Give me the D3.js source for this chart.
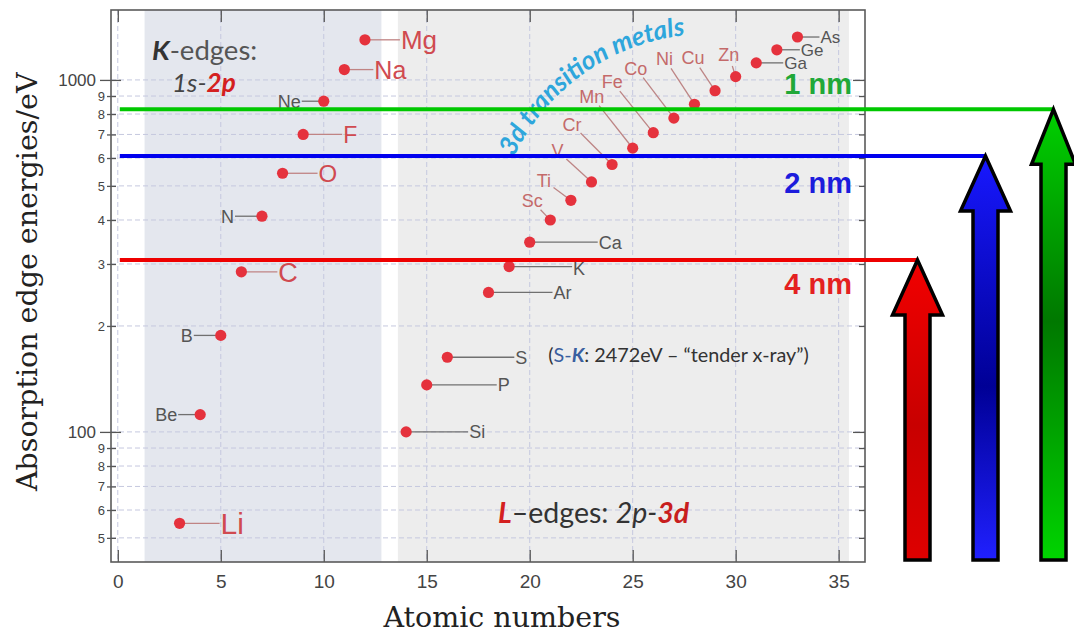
<!DOCTYPE html>
<html>
<head>
<meta charset="utf-8">
<script src="https://cdn.jsdelivr.net/npm/d3@7/dist/d3.min.js"></script>
<style>
  body { margin: 0; background: #fff; }
  svg { display: block; }
</style>
</head>
<body>
<svg id="chart" width="1074" height="633"></svg>
<script>
// K-edges (1s), light elements
const kSymbols = ["Li", "Be", "B", "C", "N", "O", "F", "Ne", "Na", "Mg"];
const kZ = [3, 4, 5, 6, 7, 8, 9, 10, 11, 12];
const kEnergy = [55, 112, 188, 285, 410, 543, 700, 870, 1070, 1300];

// L-edges (2p)
const lSymbols = ["Si", "P", "S", "Ar", "K", "Ca", "Sc", "Ti", "V", "Cr", "Mn", "Fe", "Co", "Ni", "Cu", "Zn", "Ga", "Ge", "As"];
const lZ = [14, 15, 16, 18, 19, 20, 21, 22, 23, 24, 25, 26, 27, 28, 29, 30, 31, 32, 33];
const lEnergy = [100, 136, 163, 249, 295, 346, 400, 455, 513, 575, 640, 708, 779, 853, 932, 1022, 1118, 1218, 1324];

// wavelength markers (eV where the line is drawn)
const waveNames = ["1 nm", "2 nm", "4 nm"];
const waveEnergy = [825, 608, 308];

// shaded spans (atomic number)
const regionFrom = [1.3, 13.6];
const regionTo = [12.8, 35.5];

const xTicks = [0, 5, 10, 15, 20, 25, 30, 35];
const yMajor = [100, 1000];
const yMinor = [50, 60, 70, 80, 90, 200, 300, 400, 500, 600, 700, 800, 900];
const yMinorText = ["5", "6", "7", "8", "9", "2", "3", "4", "5", "6", "7", "8", "9"];

// label placement: kind, dx, dy, font size
const labelSpot = {
    Li: ["big", 41, 0, 30], Be: ["left", -23, 0, 18], B: ["left", -28, 0, 18],
    C: ["big", 37, 0, 27], N: ["left", -28, 0, 18], O: ["big", 36, 0, 24],
    F: ["big", 40, 0, 23], Ne: ["left", -23, 0, 18], Na: ["big", 30, 0, 25],
    Mg: ["big", 36, 0, 26],
    Si: ["right", 63, 0, 18], P: ["right", 71, 0, 18], S: ["right", 68, 0, 18],
    Ar: ["right", 65, 0, 18], K: ["right", 64, 2, 18], Ca: ["right", 69, 0, 18],
    Sc: ["tm", -18, -19, 18], Ti: ["tm", -27, -20, 18], V: ["tm", -34, -31, 18],
    Cr: ["tm", -40, -40, 18], Mn: ["tm", -41, -52, 18], Fe: ["tm", -41, -51, 18],
    Co: ["tm", -38, -50, 18], Ni: ["tm", -30, -46, 18], Cu: ["tm", -22, -33, 18],
    Zn: ["tm", -7, -22, 18],
    Ga: ["right", 28, 0, 17], Ge: ["right", 24, 0, 17], As: ["right", 23, 0, 17]
};

const sans = "'Liberation Sans', Arial, sans-serif";
const calibri = "Lato, 'Open Sans', sans-serif";
const serif = "'DejaVu Serif', serif";

const svg = d3.select("#chart");
const defs = svg.append("defs");

const x = d3.scaleLinear().domain([-0.33, 36.28]).range([111, 865]);
const y = d3.scaleLog().domain([42.7, 1580]).range([562, 10]);
const x0 = x.range()[0], x1 = x.range()[1];
const y0 = y.range()[0], y1 = y.range()[1];

// shaded regions
const regionFill = ["#e4e7ee", "#ededed"];
svg.append("g").selectAll("rect")
    .data(regionFrom)
    .enter().append("rect")
    .attr("x", d => x(d))
    .attr("width", (d, i) => x(regionTo[i]) - x(d))
    .attr("y", y1)
    .attr("height", y0 - y1)
    .attr("fill", (d, i) => regionFill[i]);

// dashed grid
svg.append("g").selectAll("line")
    .data(yMinor.concat(yMajor))
    .enter().append("line")
    .attr("x1", x0).attr("x2", x1)
    .attr("y1", d => y(d)).attr("y2", d => y(d))
    .attr("stroke", "#c5c8df")
    .attr("stroke-dasharray", "5,3");

svg.append("g").selectAll("line")
    .data(xTicks)
    .enter().append("line")
    .attr("x1", d => x(d)).attr("x2", d => x(d))
    .attr("y1", y1).attr("y2", y0)
    .attr("stroke", "#c5c8df")
    .attr("stroke-dasharray", "5,3");

function styleAxis(g, size) {
    g.select(".domain").remove();
    g.selectAll("line").attr("stroke", "#555").attr("stroke-width", 1.3);
    g.selectAll("text").attr("fill", "#444");
    g.attr("font-family", sans).attr("font-size", size);
}

// x axis, ticks inside
svg.append("g")
    .attr("transform", "translate(0," + y0 + ")")
    .call(d3.axisBottom(x).tickValues(xTicks).tickSize(-12).tickPadding(13))
    .call(g => styleAxis(g, 19));
svg.append("g")
    .attr("transform", "translate(0," + y1 + ")")
    .call(d3.axisTop(x).tickValues(xTicks).tickSize(-12).tickFormat(""))
    .call(g => styleAxis(g, 10));

// y axis, ticks cross the spine
svg.append("g")
    .attr("transform", "translate(" + x0 + ",0)")
    .call(d3.axisLeft(y).tickValues(yMajor).tickSize(11).tickPadding(4).tickFormat(d3.format("d")))
    .call(g => styleAxis(g, 17));
svg.append("g")
    .attr("transform", "translate(" + x0 + ",0)")
    .call(d3.axisLeft(y).tickValues(yMinor).tickSize(4).tickPadding(2).tickFormat((d, i) => yMinorText[i]))
    .call(g => styleAxis(g, 13));
svg.append("g")
    .attr("transform", "translate(" + x0 + ",0)")
    .call(d3.axisRight(y).tickValues(yMajor).tickSize(10).tickFormat(""))
    .call(g => styleAxis(g, 10));
svg.append("g")
    .attr("transform", "translate(" + x0 + ",0)")
    .call(d3.axisRight(y).tickValues(yMinor).tickSize(5).tickFormat(""))
    .call(g => styleAxis(g, 10));
svg.append("g")
    .attr("transform", "translate(" + x1 + ",0)")
    .call(d3.axisLeft(y).tickValues(yMajor).tickSize(12).tickFormat(""))
    .call(g => styleAxis(g, 10));
svg.append("g")
    .attr("transform", "translate(" + x1 + ",0)")
    .call(d3.axisLeft(y).tickValues(yMinor).tickSize(6).tickFormat(""))
    .call(g => styleAxis(g, 10));

// frame
svg.append("rect")
    .attr("x", x0).attr("y", y1)
    .attr("width", x1 - x0).attr("height", y0 - y1)
    .attr("fill", "none")
    .attr("stroke", "#5a5a5a")
    .attr("stroke-width", 1.6);

// axis titles
svg.append("text")
    .attr("x", 502)
    .attr("y", 627)
    .attr("text-anchor", "middle")
    .attr("font-family", serif)
    .attr("font-size", 28.5)
    .attr("fill", "#222")
    .text("Atomic numbers");

svg.append("text")
    .attr("transform", "translate(37," + y(267) + ") rotate(-90)")
    .attr("text-anchor", "middle")
    .attr("font-family", serif)
    .attr("font-size", 28.5)
    .attr("fill", "#222")
    .text("Absorption edge energies/eV");

// element points
const points = kSymbols.map((s, i) => ({sym: s, z: kZ[i], e: kEnergy[i]}))
    .concat(lSymbols.map((s, i) => ({sym: s, z: lZ[i], e: lEnergy[i]})));

const labelColor = {big: "#d04a50", left: "#555", right: "#555", tm: "#c46a6a"};
const leaderColor = {big: "#c08484", left: "#707070", right: "#707070", tm: "#bd8585"};

const leaders = svg.append("g");
points.forEach(function(d) {
    const sp = labelSpot[d.sym];
    const px = x(d.z), py = y(d.e);
    if (sp[0] === "tm") {
        const lx = px + sp[1], ly = py + sp[2];
        const len = Math.sqrt(sp[1] * sp[1] + sp[2] * sp[2]);
        const ux = -sp[1] / len, uy = -sp[2] / len;
        leaders.append("line")
            .attr("x1", lx + ux * 12).attr("y1", ly + uy * 12)
            .attr("x2", px - ux * 4).attr("y2", py - uy * 4)
            .attr("stroke", leaderColor.tm).attr("stroke-width", 1.3);
    } else if (sp[0] === "left") {
        leaders.append("line")
            .attr("x1", px + sp[1] + 1).attr("x2", px - 4)
            .attr("y1", py).attr("y2", py)
            .attr("stroke", leaderColor.left).attr("stroke-width", 1.3);
    } else {
        leaders.append("line")
            .attr("x1", px + 4).attr("x2", px + sp[1] - 1)
            .attr("y1", py).attr("y2", py)
            .attr("stroke", leaderColor[sp[0]]).attr("stroke-width", 1.3);
    }
});

svg.append("g").selectAll("circle")
    .data(points)
    .enter().append("circle")
    .attr("cx", d => x(d.z))
    .attr("cy", d => y(d.e))
    .attr("r", 5.6)
    .attr("fill", "#e5323d");

svg.append("g").selectAll("text")
    .data(points)
    .enter().append("text")
    .attr("x", d => x(d.z) + labelSpot[d.sym][1])
    .attr("y", d => y(d.e) + labelSpot[d.sym][2])
    .attr("dy", "0.36em")
    .attr("text-anchor", d => {
        const k = labelSpot[d.sym][0];
        return k === "left" ? "end" : (k === "tm" ? "middle" : "start");
    })
    .attr("font-family", sans)
    .attr("font-size", d => labelSpot[d.sym][3])
    .attr("fill", d => labelColor[labelSpot[d.sym][0]])
    .text(d => d.sym);

// curved "3d transition metals"
const arcPath = d3.path();
arcPath.arc(x(28.7), y(329), 216, 205.5 * Math.PI / 180, 278 * Math.PI / 180);
defs.append("path").attr("id", "tmArc").attr("d", arcPath.toString());
svg.append("text")
    .attr("font-family", calibri)
    .attr("font-size", 26)
    .attr("font-weight", "bold")
    .attr("font-style", "italic")
    .attr("fill", "#2ea6dc")
    .append("textPath")
    .attr("href", "#tmArc")
    .text("3d transition metals");

// region captions
const kCap = svg.append("text")
    .attr("x", x(1.66)).attr("y", y(1140))
    .attr("font-family", calibri).attr("font-size", 27.5).attr("fill", "#555");
kCap.append("tspan").attr("font-weight", "bold").attr("font-style", "italic").attr("fill", "#333").text("K");
kCap.append("tspan").text("-edges:");

const kCap2 = svg.append("text")
    .attr("x", x(2.63)).attr("y", y(924))
    .attr("font-family", calibri).attr("font-size", 26).attr("font-style", "italic").attr("fill", "#444");
kCap2.append("tspan").text("1s-");
kCap2.append("tspan").attr("font-weight", "bold").attr("fill", "#d42020").text("2p");

const lCap = svg.append("text")
    .attr("x", x(18.46)).attr("y", y(55.1))
    .attr("font-family", calibri).attr("font-size", 28.5).attr("fill", "#333");
lCap.append("tspan").attr("font-weight", "bold").attr("font-style", "italic").attr("fill", "#d42020").text("L");
lCap.append("tspan").text("\u2013edges: ");
lCap.append("tspan").attr("font-style", "italic").text("2p-");
lCap.append("tspan").attr("font-weight", "bold").attr("font-style", "italic").attr("fill", "#c81e1e").text("3d");

const sNote = svg.append("text")
    .attr("x", x(20.9)).attr("y", y(158))
    .attr("font-family", calibri).attr("font-size", 19.8).attr("fill", "#333");
sNote.append("tspan").text("(");
sNote.append("tspan").attr("fill", "#3a5fa0").text("S-");
sNote.append("tspan").attr("fill", "#3a5fa0").attr("font-weight", "bold").attr("font-style", "italic").text("K");
sNote.append("tspan").text(": 2472eV \u2013 \u201ctender x-ray\u201d)");

// wavelength lines + arrows
const waveColor = ["#00c800", "#0000ee", "#ee0000"];
const waveTextColor = ["#20a838", "#1c1cdc", "#e42020"];
const waveTextDy = [-15, 37, 34];
const arrowSlot = [2, 1, 0];
const headHalf = [22, 25, 25];
const gradStops = [
    [[0, "#00d000"], [0.47, "#007800"], [1, "#00d400"]],
    [[0, "#1818ff"], [0.57, "#000096"], [1, "#2020ff"]],
    [[0, "#f20000"], [0.55, "#c80000"], [1, "#de0000"]]
];

gradStops.forEach(function(stops, i) {
    const lg = defs.append("linearGradient")
        .attr("id", "arrowGrad" + i)
        .attr("x1", 0).attr("y1", 0).attr("x2", 0).attr("y2", 1);
    stops.forEach(function(s) {
        lg.append("stop").attr("offset", s[0]).attr("stop-color", s[1]);
    });
});

waveEnergy.forEach(function(e, i) {
    const ax = x1 + 52.5 + arrowSlot[i] * 68;
    const ty = y(e);
    svg.append("line")
        .attr("x1", x(0) + 2).attr("x2", ax)
        .attr("y1", ty).attr("y2", ty)
        .attr("stroke", waveColor[i])
        .attr("stroke-width", 4);

    svg.append("text")
        .attr("x", x(35.65))
        .attr("y", ty + waveTextDy[i])
        .attr("text-anchor", "end")
        .attr("font-family", sans)
        .attr("font-weight", "bold")
        .attr("font-size", 29)
        .attr("fill", waveTextColor[i])
        .text(waveNames[i]);

    const hh = headHalf[i], sh = 12.5, hl = 55, by = y0 - 2;
    const p = d3.path();
    p.moveTo(ax, ty);
    p.lineTo(ax + hh, ty + hl);
    p.lineTo(ax + sh, ty + hl);
    p.lineTo(ax + sh, by);
    p.lineTo(ax - sh, by);
    p.lineTo(ax - sh, ty + hl);
    p.lineTo(ax - hh, ty + hl);
    p.closePath();
    svg.append("path")
        .attr("d", p.toString())
        .attr("fill", "url(#arrowGrad" + i + ")")
        .attr("stroke", "#000")
        .attr("stroke-width", 3.5)
        .attr("stroke-linejoin", "miter");
});
</script>
</body>
</html>
